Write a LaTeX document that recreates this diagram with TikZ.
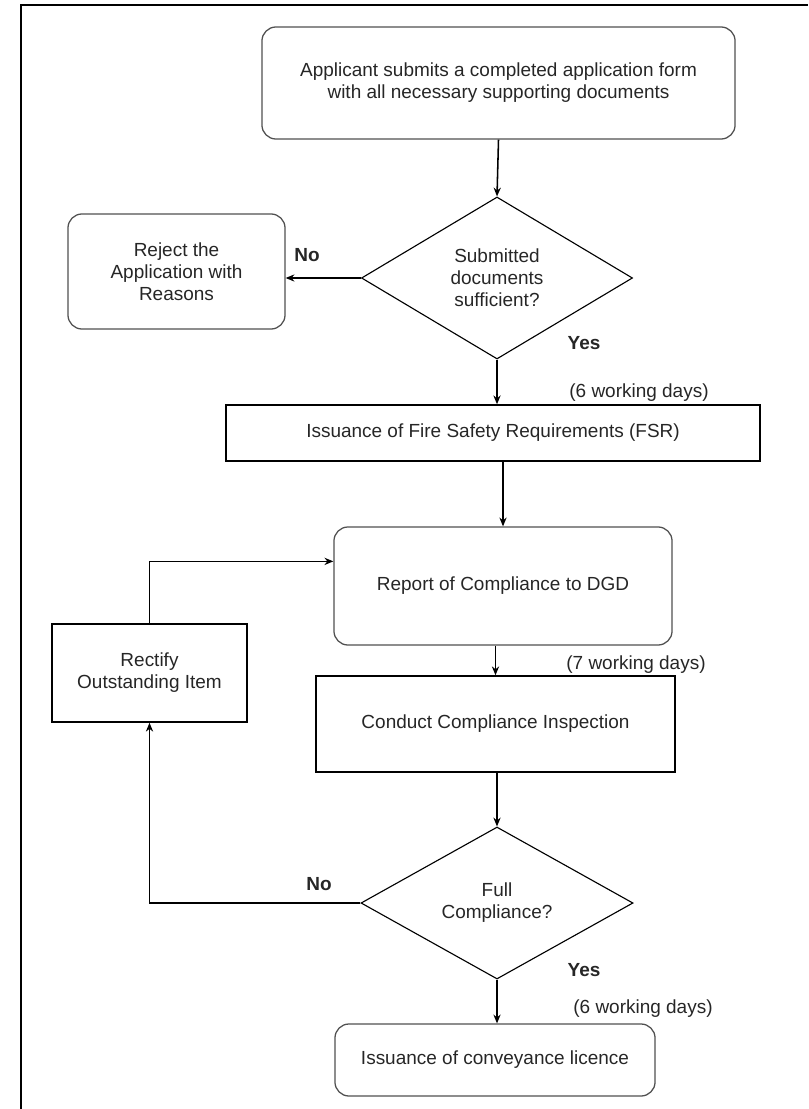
\documentclass[tikz,border=0pt]{standalone}
\usepackage{fontspec}
\setmainfont{Liberation Sans}
\usetikzlibrary{arrows.meta,shapes.geometric,calc}
\definecolor{ink}{HTML}{262626}
\definecolor{edge}{HTML}{505050}

\begin{document}
\begin{tikzpicture}[x=0.025cm,y=-0.025cm,
    font=\fontsize{13.5}{15.6}\selectfont, text=ink,
    roundbox/.style={draw=edge,line width=0.9pt,rounded corners=0.35cm,align=center,inner sep=0pt},
    plainbox/.style={draw=black,line width=1.1pt,align=center,inner sep=0pt},
    decision/.style={draw=black,line width=0.8pt,diamond,align=center,inner sep=0pt},
    link/.style={-{Stealth[length=2.2mm,width=1.8mm]},line width=1.1pt},
    answer/.style={font=\fontsize{13.5}{15.6}\selectfont\bfseries}]

  \useasboundingbox (0,0) rectangle (808,1109);

  % Page frame (only top and left edges show).
  \draw[line width=1.5pt] (21,1109) -- (21,5) -- (808,5);

  \node[roundbox,minimum width=11.825cm,minimum height=2.8cm] (apply) at (498.5,83)
       {Applicant submits a completed application form\\with all necessary supporting documents};
  \node[decision,minimum width=6.775cm,minimum height=4.05cm] (suff) at (497,278)
       {Submitted\\documents\\sufficient?};
  \node[roundbox,minimum width=5.425cm,minimum height=2.875cm] (reject) at (176.5,271.5)
       {Reject the\\Application with\\Reasons};
  \node[plainbox,minimum width=13.35cm,minimum height=1.4cm] (fsr) at (493,433)
       {Issuance of Fire Safety Requirements (FSR)};
  \node[roundbox,minimum width=8.45cm,minimum height=2.95cm] (report) at (503,586)
       {Report of Compliance to DGD};
  \node[plainbox,minimum width=8.975cm,minimum height=2.4cm] (conduct) at (495.5,724)
       {Conduct Compliance Inspection};
  \node[plainbox,minimum width=4.875cm,minimum height=2.45cm] (rectify) at (149.5,673)
       {Rectify\\Outstanding Item};
  \node[decision,minimum width=6.8cm,minimum height=3.8cm] (full) at (497,903)
       {Full\\Compliance?};
  \node[roundbox,minimum width=8cm,minimum height=1.8cm] (licence) at (495,1060)
       {Issuance of conveyance licence};

  % Answers and time limits.
  \node[answer] (noone) at (307,255) {No};
  \node[answer] (yesone) at (584,343) {Yes};
  \node (daysone) at (639,393) {(6 working days)};
  \node (daystwo) at (636,665) {(7 working days)};
  \node[answer] (notwo) at (319,884) {No};
  \node[answer] (yestwo) at (584,970) {Yes};
  \node (daysthree) at (643,1009) {(6 working days)};

  \draw[link] (apply.south) -- (suff.north);
  \draw[link] (suff.west) -- (suff.west -| reject.east);
  \draw[link] (suff.south) -- (suff.south |- fsr.north);
  \draw[link] (fsr.south -| report.north) -- (report.north);
  \draw[link] (report.south -| conduct.north) -- (conduct.north);
  \draw[link] (conduct.south) -- (conduct.south -| full.north) -- (full.north);
  \draw[link] (full.west) -| (rectify.south);
  \draw[link] (rectify.north) |- ([yshift=-0.875cm]report.north west);
  \draw[link] (full.south) -- (full.south |- licence.north);
\end{tikzpicture}
\end{document}
